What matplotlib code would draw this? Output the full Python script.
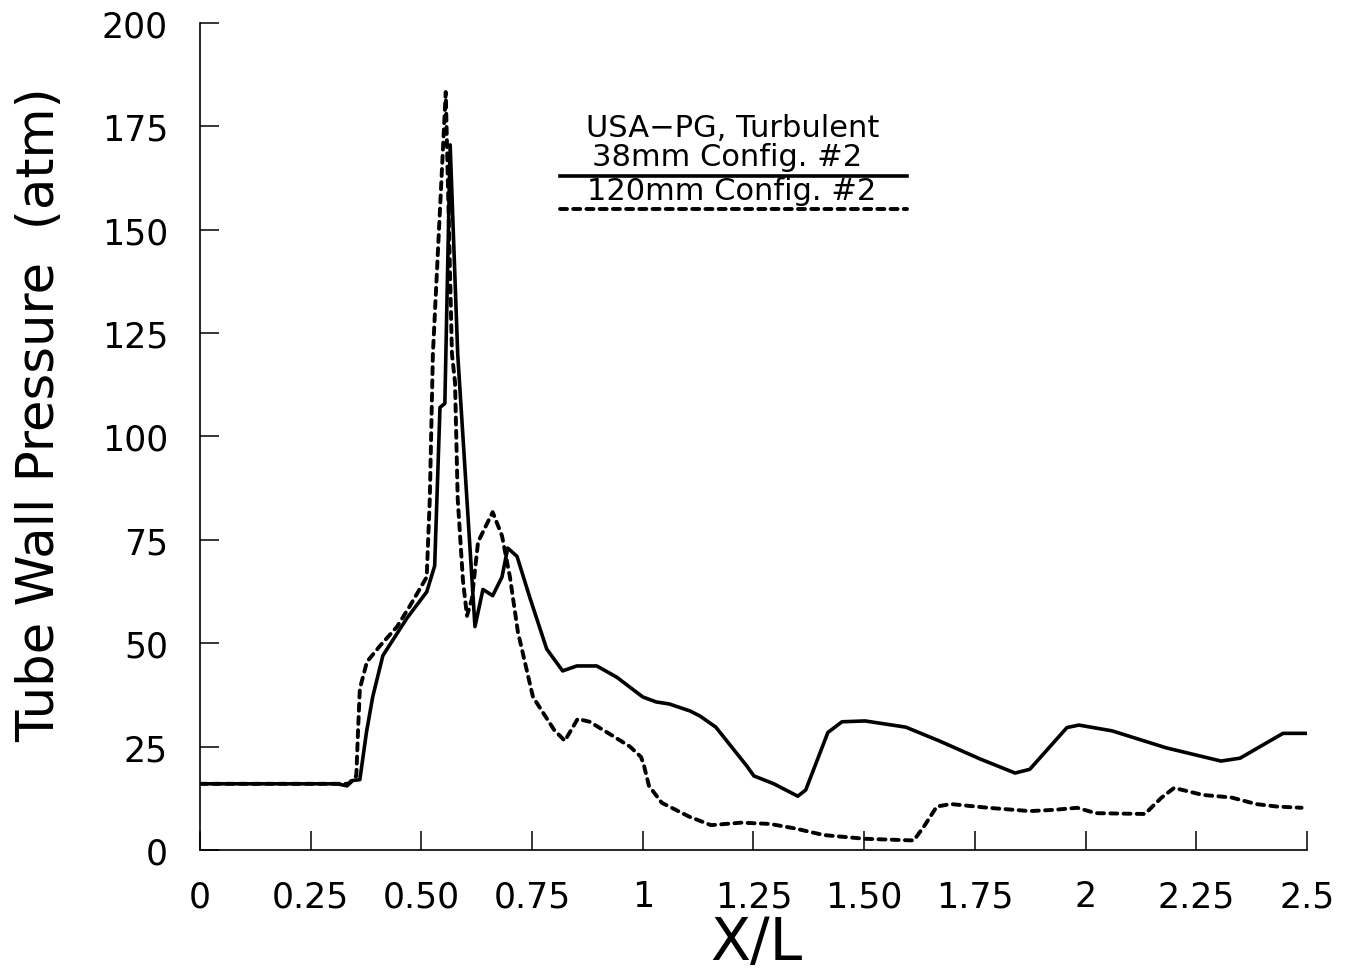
"""Tube wall pressure along the barrel, 38mm vs 120mm configuration #2."""

import matplotlib
matplotlib.use("Agg")
import matplotlib.pyplot as plt

# 38mm Config. #2 (solid)
x_38mm = [
    0.000, 0.310, 0.332, 0.345, 0.361, 0.376, 0.390, 0.413, 0.467, 0.512,
    0.530, 0.542, 0.553, 0.565, 0.582, 0.621, 0.639, 0.661, 0.682, 0.695,
    0.716, 0.745, 0.783, 0.819, 0.851, 0.896, 0.941, 1.000, 1.030, 1.060,
    1.107, 1.129, 1.165, 1.235, 1.251, 1.296, 1.350, 1.368, 1.418, 1.450,
    1.502, 1.594, 1.669, 1.762, 1.841, 1.874, 1.958, 1.985, 2.060, 2.182,
    2.306, 2.349, 2.446, 2.498,
]
p_38mm = [
    16.0, 16.0, 15.5, 16.8, 17.0, 28.5, 37.0, 47.0, 56.0, 62.4,
    68.7, 107.0, 108.0, 170.5, 120.0, 54.0, 63.0, 61.5, 66.0, 73.0,
    71.0, 61.0, 48.6, 43.3, 44.5, 44.5, 41.8, 37.0, 35.8, 35.3,
    33.6, 32.4, 29.7, 20.3, 17.9, 16.0, 13.0, 14.5, 28.4, 31.0,
    31.2, 29.7, 26.4, 22.0, 18.6, 19.5, 29.6, 30.2, 28.8, 24.7,
    21.5, 22.2, 28.2, 28.2,
]

# 120mm Config. #2 (dashed)
x_120mm = [
    0.000, 0.335, 0.353, 0.357, 0.361, 0.377, 0.406, 0.445, 0.474, 0.512,
    0.519, 0.526, 0.555, 0.569, 0.576, 0.582, 0.594, 0.603, 0.614, 0.628,
    0.661, 0.682, 0.700, 0.718, 0.752, 0.800, 0.824, 0.853, 0.880, 0.926,
    0.971, 0.996, 1.003, 1.014, 1.043, 1.104, 1.154, 1.222, 1.287, 1.344,
    1.409, 1.502, 1.612, 1.637, 1.664, 1.696, 1.780, 1.874, 1.929, 1.981,
    2.023, 2.134, 2.171, 2.200, 2.265, 2.329, 2.385, 2.432, 2.488,
]
p_120mm = [
    16.0, 16.0, 17.9, 29.0, 39.0, 45.5, 49.3, 54.0, 59.0, 66.0,
    85.0, 120.0, 183.3, 120.0, 113.0, 85.0, 65.0, 56.6, 60.7, 74.5,
    81.7, 76.0, 66.0, 52.7, 37.0, 29.0, 26.4, 31.7, 31.0, 28.0,
    25.0, 22.5, 20.3, 15.5, 11.4, 8.1, 6.0, 6.6, 6.3, 5.2,
    3.6, 2.7, 2.3, 6.0, 10.5, 11.1, 10.2, 9.4, 9.7, 10.2,
    8.9, 8.7, 12.6, 15.0, 13.3, 12.7, 11.1, 10.5, 10.2,
]

x_ticks = [0, 0.25, 0.5, 0.75, 1.0, 1.25, 1.5, 1.75, 2.0, 2.25, 2.5]
x_tick_labels = ["0", "0.25", "0.50", "0.75", "1", "1.25", "1.50", "1.75",
                 "2", "2.25", "2.5"]
y_ticks = [0, 25, 50, 75, 100, 125, 150, 175, 200]

plt.rcParams["font.family"] = ["DejaVu Sans"]

fig = plt.figure(figsize=(13.45, 9.78), dpi=100)
ax = fig.add_axes([0.1487, 0.1299, 0.823, 0.8456])

ax.plot(x_38mm, p_38mm, color="black", linewidth=2.6, solid_joinstyle="round")
ax.plot(x_120mm, p_120mm, color="black", linewidth=2.8,
        linestyle=(0, (1.8, 1.6)), dash_capstyle="round")

ax.set_xlim(0, 2.5)
ax.set_ylim(0, 200)
ax.set_xticks(x_ticks)
ax.set_xticklabels(x_tick_labels)
ax.set_yticks(y_ticks)

for side in ("top", "right"):
    ax.spines[side].set_visible(False)
for side in ("left", "bottom"):
    ax.spines[side].set_linewidth(1.2)

ax.tick_params(axis="both", direction="in", length=14, width=1.1,
               labelsize=25)
ax.tick_params(axis="x", pad=21)
ax.tick_params(axis="y", pad=23)

ax.set_xlabel("X/L", fontsize=42)
ax.xaxis.set_label_coords(0.503, -0.078)
ax.set_ylabel("Tube Wall Pressure  (atm)", fontsize=37)
ax.yaxis.set_label_coords(-0.122, 0.527)

# legend block drawn by hand, like the original figure
ax.text(0.4815, 0.874, "USA\u2212PG, Turbulent", transform=ax.transAxes,
        ha="center", va="center", fontsize=22)
ax.text(0.476, 0.838, "38mm Config. #2", transform=ax.transAxes,
        ha="center", va="center", fontsize=22)
ax.text(0.480, 0.798, "120mm Config. #2", transform=ax.transAxes,
        ha="center", va="center", fontsize=22)
ax.plot([0.325, 0.6387], [0.815, 0.815], transform=ax.transAxes,
        color="black", linewidth=2.6, clip_on=False)
ax.plot([0.325, 0.6387], [0.775, 0.775], transform=ax.transAxes,
        color="black", linewidth=2.8, linestyle=(0, (1.8, 1.6)),
        dash_capstyle="round", clip_on=False)

fig.savefig("out.png", dpi=100)
